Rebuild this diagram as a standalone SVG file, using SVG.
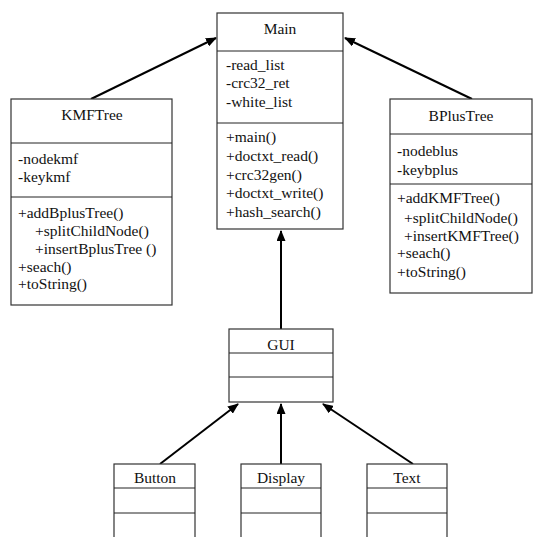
<svg xmlns="http://www.w3.org/2000/svg" width="536" height="537" viewBox="0 0 536 537">
<defs>
<marker id="arr" markerWidth="11" markerHeight="9" refX="10" refY="4.5" orient="auto" markerUnits="userSpaceOnUse">
<path d="M0,0 L11,4.5 L0,9 z" fill="#000"/>
</marker>
<style>
.box{fill:#fff;stroke:#333;stroke-width:1.2}
.div{stroke:#222;stroke-width:1}
text{font-family:"Liberation Serif","Times New Roman",serif;font-size:15.5px;fill:#111}
.c{text-anchor:middle}
.con{stroke:#000;stroke-width:2;fill:none;marker-end:url(#arr)}
</style>
</defs>
<rect width="536" height="537" fill="#fff"/>
<g id="connectors">
<line class="con" x1="91" y1="99" x2="216" y2="38"/>
<line class="con" x1="472" y1="99" x2="345" y2="38"/>
<line class="con" x1="281" y1="329" x2="281" y2="231"/>
<line class="con" x1="160" y1="464" x2="238" y2="404"/>
<line class="con" x1="281" y1="464" x2="281" y2="404"/>
<line class="con" x1="413" y1="464" x2="323" y2="404"/>
</g>
<g id="Main">
<rect class="box" x="217" y="13" width="126" height="216"/>
<line class="div" x1="217" y1="51" x2="343" y2="51"/>
<line class="div" x1="217" y1="123" x2="343" y2="123"/>
<text class="c" x="280" y="34">Main</text>
<text x="226" y="70">-read_list</text>
<text x="226" y="88">-crc32_ret</text>
<text x="226" y="107">-white_list</text>
<text x="226" y="142">+main()</text>
<text x="226" y="161">+doctxt_read()</text>
<text x="226" y="180">+crc32gen()</text>
<text x="226" y="198">+doctxt_write()</text>
<text x="226" y="217">+hash_search()</text>
</g>
<g id="KMFTree">
<rect class="box" x="11" y="99" width="161" height="206"/>
<line class="div" x1="11" y1="143" x2="172" y2="143"/>
<line class="div" x1="11" y1="197" x2="172" y2="197"/>
<text class="c" x="92" y="120">KMFTree</text>
<text x="18" y="164">-nodekmf</text>
<text x="18" y="182">-keykmf</text>
<text x="18" y="218">+addBplusTree()</text>
<text x="35" y="236">+splitChildNode()</text>
<text x="35" y="254">+insertBplusTree ()</text>
<text x="18" y="272">+seach()</text>
<text x="18" y="289">+toString()</text>
</g>
<g id="BPlusTree">
<rect class="box" x="390" y="99" width="142" height="194"/>
<line class="div" x1="390" y1="134" x2="532" y2="134"/>
<line class="div" x1="390" y1="184" x2="532" y2="184"/>
<text class="c" x="461" y="121">BPlusTree</text>
<text x="397" y="156">-nodeblus</text>
<text x="397" y="175">-keybplus</text>
<text x="397" y="203">+addKMFTree()</text>
<text x="404" y="223">+splitChildNode()</text>
<text x="404" y="241">+insertKMFTree()</text>
<text x="397" y="258">+seach()</text>
<text x="397" y="277">+toString()</text>
</g>
<g id="GUI">
<rect class="box" x="229" y="329" width="104" height="73"/>
<line class="div" x1="229" y1="353" x2="333" y2="353"/>
<line class="div" x1="229" y1="377" x2="333" y2="377"/>
<text class="c" x="281" y="350">GUI</text>
</g>
<g id="Button">
<rect class="box" x="114" y="464" width="81" height="85"/>
<line class="div" x1="114" y1="488" x2="195" y2="488"/>
<line class="div" x1="114" y1="513" x2="195" y2="513"/>
<text class="c" x="155" y="483">Button</text>
</g>
<g id="Display">
<rect class="box" x="241" y="464" width="80" height="85"/>
<line class="div" x1="241" y1="488" x2="321" y2="488"/>
<line class="div" x1="241" y1="513" x2="321" y2="513"/>
<text class="c" x="281" y="483">Display</text>
</g>
<g id="Text">
<rect class="box" x="367" y="464" width="80" height="85"/>
<line class="div" x1="367" y1="488" x2="447" y2="488"/>
<line class="div" x1="367" y1="513" x2="447" y2="513"/>
<text class="c" x="407" y="483">Text</text>
</g>
</svg>
